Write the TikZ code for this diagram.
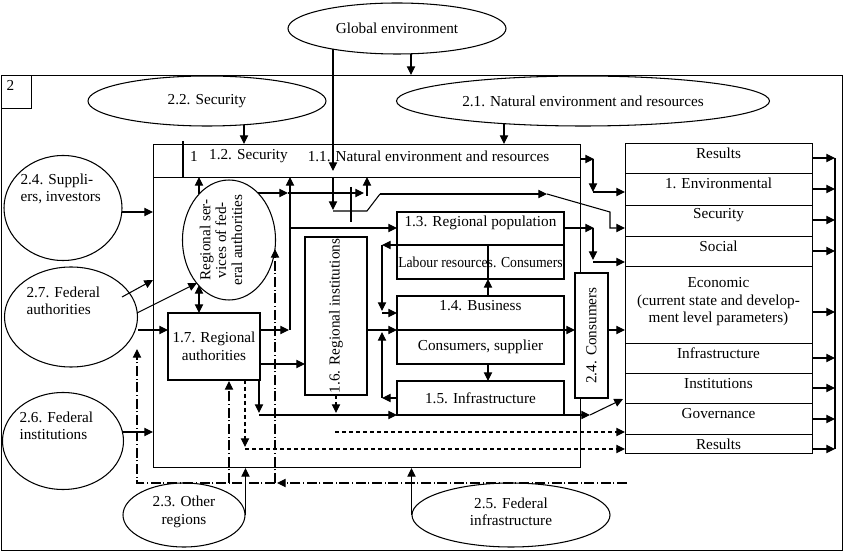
\documentclass[tikz,border=0pt]{standalone}
\usepackage{fontspec}
\setmainfont{Liberation Serif}
\usepackage{graphicx}
\usepackage{tikz}
\usetikzlibrary{calc}
\usetikzlibrary{arrows.meta}
\usetikzlibrary{positioning}
\usetikzlibrary{shapes.geometric}

\begin{document}
\begin{tikzpicture}[x=0.3mm,y=-0.3mm,line width=0.9pt,font=\fontsize{13}{15}\selectfont]
			\tikzset{box/.style={shape=rectangle, draw=black, align=center, inner sep=1pt}}
			\tikzset{oval/.style={shape=ellipse, draw=black, inner sep=0pt}}
			\tikzset{lbl/.style={inner sep=0pt, align=center}}
			\tikzset{flow/.style={-{Triangle[length=2.6mm,width=2.5mm]}}}
			\tikzset{biflow/.style={{Triangle[length=2.6mm,width=2.5mm]}-{Triangle[length=2.6mm,width=2.5mm]}}}
			\tikzset{dflow/.style={flow, dash pattern=on 1.2mm off 0.9mm}}
			\tikzset{chain/.style={dash pattern=on 3mm off 0.8mm on 0.3mm off 0.8mm}}
			\useasboundingbox (0,0) rectangle (843,551);
			% level 2
			\node[box, anchor=north west, minimum width=252.3mm, minimum height=142.5mm] (region) at (1,75) {};
			\node[box, anchor=north west, minimum width=9mm, minimum height=9.9mm] (tag) at (1,75) {};
			\node[lbl, anchor=north west] (tagno) at (6,80) {2};
			\node[oval, minimum width=65.4mm, minimum height=15.3mm] (global) at (397,28.5) {Global environment};
			\node[oval, minimum width=71.4mm, minimum height=15mm] (security) at (207,101) {2.2. Security};
			\node[oval, minimum width=111.9mm, minimum height=15mm] (nature) at (583,101) {2.1. Natural environment and resources};
			\node[oval, minimum width=35.4mm, minimum height=31.5mm] (suppliers) at (63,208) {};
			\node[lbl, align=left, anchor=west] (supplierslbl) at (20,189) {2.4. Suppli-\\ers, investors};
			\node[oval, minimum width=39.9mm, minimum height=30mm] (federal) at (71,317) {};
			\node[lbl, align=left, anchor=west] (federallbl) at (26,301) {2.7. Federal\\authorities};
			\node[oval, minimum width=36.3mm, minimum height=29.1mm] (fedinst) at (63,441) {};
			\node[lbl, align=left, anchor=west] (fedinstlbl) at (19,426) {2.6. Federal\\institutions};
			\node[oval, minimum width=36.6mm, minimum height=19.2mm] (regions) at (184,515) {};
			\node[lbl] (regionslbl) at (184,512) {2.3. Other\\regions};
			\node[oval, minimum width=59.4mm, minimum height=19.2mm] (fedinfra) at (511,515) {};
			\node[lbl] (fedinfralbl) at (511,512) {2.5. Federal\\infrastructure};
			% level 1
			\node[box, anchor=north west, minimum width=128.1mm, minimum height=96.9mm] (core) at (153,144) {};
			\node[box, anchor=north west, minimum width=128.1mm, minimum height=9.9mm] (corehead) at (153,144) {};
			\draw (183,141) -- (183,177);
			\node[lbl] (coreno) at (194,156) {1};
			\node[lbl] (coresec) at (248.5,156) {1.2. Security};
			\node[lbl] (corenat) at (428.5,156) {1.1. Natural environment and resources};
			\node[oval, minimum width=27.9mm, minimum height=36mm] (services) at (229,240) {};
			\node[lbl, rotate=90, font=\fontsize{13}{13.6}\selectfont] (serviceslbl) at (221,240) {Regional ser-\\vices of fed-\\eral authorities};
			\node[box, minimum width=27.6mm, minimum height=20.1mm] (authorities) at (214,346.5) {1.7. Regional\\authorities};
			\node[box, rotate=90, minimum width=47.4mm, minimum height=18.6mm] (institutions) at (336,316) {1.6. Regional institutions};
			\node[box, minimum width=50.1mm, minimum height=20.1mm] (population) at (480.5,245.5) {};
			\node[lbl] (poplbl) at (480.5,223) {1.3. Regional population};
			\node[lbl] (labour) at (480.5,262) {\scalebox{0.9}[1]{Labour resources. Consumers}};
			\node[box, minimum width=50.1mm, minimum height=20.4mm] (business) at (480.5,330) {};
			\node[lbl] (buslbl) at (480.5,306) {1.4. Business};
			\node[lbl] (supplier) at (480.5,347) {Consumers, supplier};
			\node[box, minimum width=50.1mm, minimum height=10.2mm] (infra) at (480.5,398) {1.5. Infrastructure};
			\node[box, rotate=90, fill=white, minimum width=37.5mm, minimum height=9.9mm] (consumers) at (591.5,335.5) {2.4. Consumers};
			% results
			\foreach \rid/\rtop/\rh/\ray/\rtxt in {res/143/30/158/Results, env/173/32/189/1. Environmental, sec/205/31/220/Security, soc/236/30/251/Social, eco/266/77/312/{}, inf/343/30/358/Infrastructure, ins/373/30/388/Institutions, gov/403/31/419/Governance, fin/434/19/449/Results}{
				\node[box, anchor=north west, minimum width=56.1mm, minimum height=\rh*0.3mm] (\rid) at (625,\rtop) {};
				\node[lbl] (\rid lbl) at (718.5,{\rtop+10.5}) {\rtxt};
				\draw[flow] (812,\ray) -- (835,\ray);
			}
			\node[lbl] (ecotxt) at (718.5,302) {Economic\\(current state and develop-\\ment level parameters)};
			\draw (835,158) -- (835,449);
			% from the environment
			\draw[flow] (411,54) -- (411,75);
			\draw[flow] (333,49) -- (333,171);
			\draw[flow] (333,177) -- (333,210);
			\draw (333,211) -- (367,211) -- (380,194);
			\draw[flow] (380,194) -- (547,194);
			\draw[flow] (547,194) -- (610,212) -- (610,228) -- (625,228);
			\draw (351,187) -- (351,222);
			\draw[flow] (244,125) -- (244,144);
			\draw[flow] (504,124) -- (504,144);
			% inputs from the left and below
			\draw[flow] (122,212) -- (153,212);
			\draw[flow] (122,297) -- (153,280);
			\draw[flow] (137,313) -- (197,283);
			\draw[flow] (138,330) -- (168,330);
			\draw[flow] (123,432) -- (153,432);
			\draw[flow] (regions.east) -- (regions.east |- core.south);
			\draw[flow] (fedinfra.west) -- (fedinfra.west |- core.south);
			% federal services and authorities
			\draw[flow] (199,194) -- (199,177);
			\draw[flow] (258,193) -- (288,193);
			\draw[flow] (288,193) -- (364,193);
			\draw[flow] (367,196) -- (367,177);
			\draw[biflow] (199,285) -- (199,313);
			\draw[flow] (260,330) -- (289,330);
			\draw[flow] (290,330) -- (290,177);
			\draw[flow] (290,228) -- (397,228);
			\draw[flow] (260,364) -- (305,364);
			\draw[flow] (259,380) -- (259,413);
			\draw[flow] (259,415) -- (397,415);
			\draw[flow] (397,415) -- (590,415);
			\draw[flow] (590,415) -- (623,399);
			\draw[dflow] (245,380) -- (245,447);
			\draw[dflow] (245,449) -- (625,449);
			% institutions, population, business
			\draw[dflow] (336,395) -- (336,413);
			\draw[dflow] (335,432) -- (625,432);
			\draw[flow] (367,330) -- (397,330);
			\draw[flow] (397,330) -- (575,330);
			\draw[flow] (564,245) -- (382,245);
			\draw[flow] (382,245) -- (382,311);
			\draw[flow] (382,313) -- (397,313);
			\draw[flow] (488,296) -- (488,279);
			\draw (488,279) -- (488,245);
			\draw[flow] (488,364) -- (488,381);
			\draw[flow] (397,398) -- (382,398);
			\draw[flow] (382,398) -- (382,332);
			\draw[flow] (608,330) -- (625,330);
			% towards the results
			\draw[flow] (580,159) -- (594,159);
			\draw[flow] (593,159) -- (593,192);
			\draw[flow] (593,192) -- (625,192);
			\draw[flow] (564,228) -- (594,228);
			\draw[flow] (593,228) -- (593,260);
			\draw[flow] (593,262) -- (625,262);
			% other regions feedback
			\draw[chain, flow] (627,483) -- (277,483);
			\draw[chain, flow] (275,483) -- (275,249);
			\draw[chain, flow] (275,483) -- (137,483) -- (137,349);
			\draw[chain, flow] (229,483) -- (229,381);
		\end{tikzpicture}
\end{document}
